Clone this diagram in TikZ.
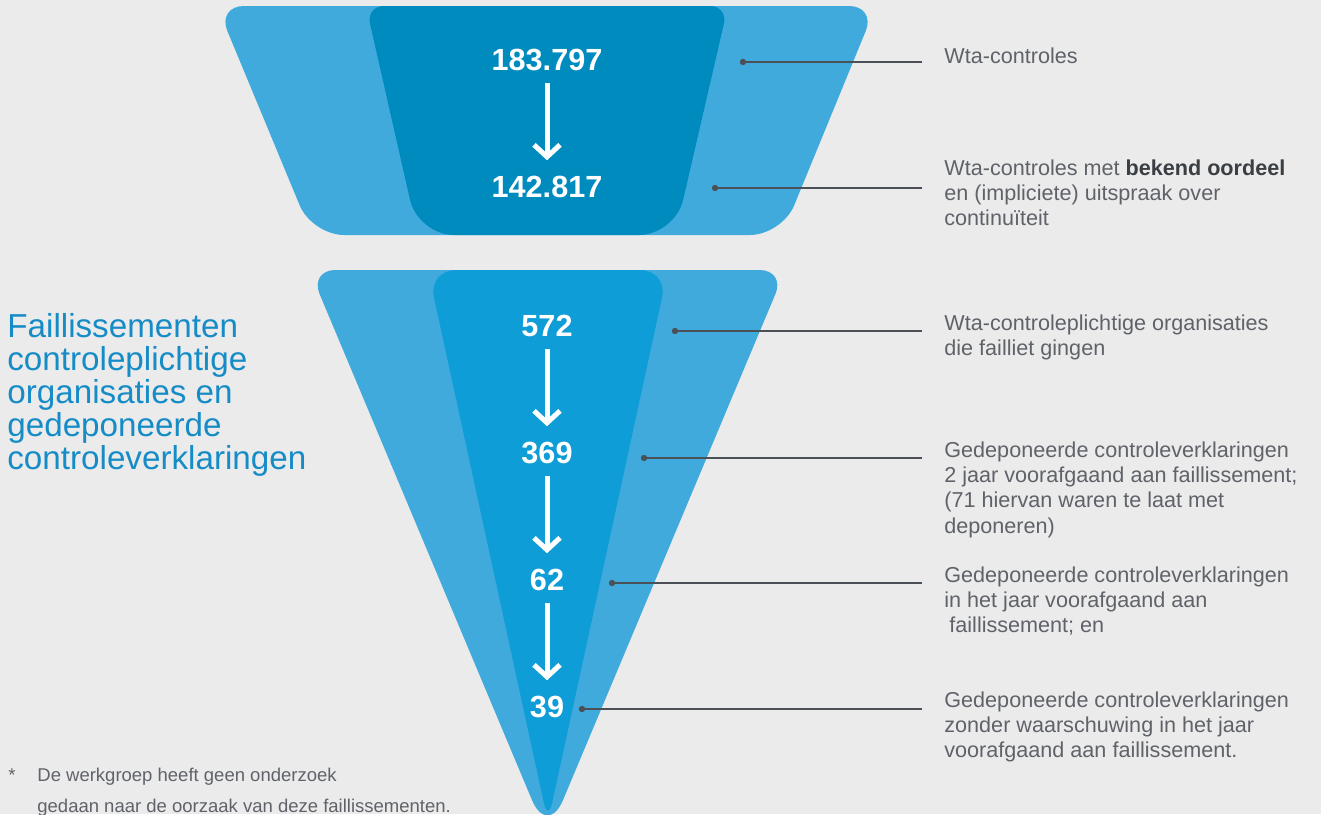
\documentclass[tikz,border=0pt]{standalone}
\usepackage{fontspec}
\setmainfont{Liberation Sans}
\usetikzlibrary{arrows.meta}
\definecolor{bg}{RGB}{235,235,235}
\definecolor{outerblue}{RGB}{65,170,220}
\definecolor{topinner}{RGB}{0,139,191}
\definecolor{botinner}{RGB}{14,157,214}
\definecolor{titleblue}{RGB}{22,140,199}
\definecolor{txtgray}{RGB}{95,99,105}
\definecolor{boldgray}{RGB}{58,63,68}
\definecolor{leadergray}{RGB}{75,80,87}
\begin{document}
\begin{tikzpicture}[x=0.5pt,y=-0.5pt,
  num/.style={font=\fontsize{15.3}{16}\selectfont\bfseries, text=white, inner sep=0pt, anchor=base},
  numarrow/.style={draw=white, line width=2.5pt, shorten <=6pt, shorten >=7.5pt,
    -{Straight Barb[length=6pt,width=13pt,line cap=butt,line join=miter]}},
  desc/.style={anchor=base west, inner sep=0pt, text=txtgray, font=\fontsize{10.8}{12.7}\selectfont},
  leaderline/.style={draw=leadergray, line width=0.65pt},
  leaderdot/.style={fill=leadergray},
  titletext/.style={anchor=base west, inner sep=0pt, text=titleblue, font=\fontsize{16.6}{16.6}\selectfont},
  foot/.style={anchor=base west, inner sep=0pt, text=txtgray, font=\fontsize{9.25}{15.5}\selectfont}
]
\useasboundingbox (0,0) rectangle (1321,814);
\fill[bg] (0,0) rectangle (1321,814);

% ---------- top funnel ----------
\fill[outerblue] (546.5,6) [rounded corners=13.5pt] -- (876,6) -- (829,120.5)
  [rounded corners=16pt] -- (782,235) -- (312,235) -- (264.5,120.5)
  [rounded corners=13.5pt] -- (217,6) -- cycle;
\fill[topinner] (547,6) [rounded corners=9pt] -- (728,6) -- (701.5,120.5)
  [rounded corners=18pt] -- (675,235) -- (418,235) -- (392,120.5)
  [rounded corners=9pt] -- (366,6) -- cycle;

% ---------- bottom funnel ----------
\fill[outerblue] (547.5,270) [rounded corners=13pt] -- (785.5,270) -- (666.5,553.5)
  [rounded corners=20pt] -- (547.5,837) -- (428.5,553.5)
  [rounded corners=13pt] -- (309.5,270) -- cycle;
\fill[botinner] (548,270) [rounded corners=14pt] -- (668,270) -- (608,546)
  [rounded corners=10pt] -- (548,822) -- (488,546)
  [rounded corners=14pt] -- (428,270) -- cycle;

% ---------- numbers ----------
\node[num] (n1) at (547,70) {183.797};
\node[num] (n2) at (547,197) {142.817};
\node[num] (n3) at (547,336) {572};
\node[num] (n4) at (547,463) {369};
\node[num] (n5) at (547,590) {62};
\node[num] (n6) at (547,717) {39};
\draw[numarrow] (n1.south) -- (n2.north);
\draw[numarrow] (n3.south) -- (n4.north);
\draw[numarrow] (n4.south) -- (n5.north);
\draw[numarrow] (n5.south) -- (n6.north);

% ---------- leader lines ----------
\coordinate (d1) at (743,62);  \coordinate (e1) at (922,62);
\coordinate (d2) at (715,188); \coordinate (e2) at (922,188);
\coordinate (d3) at (675,331); \coordinate (e3) at (922,331);
\coordinate (d4) at (644,458); \coordinate (e4) at (922,458);
\coordinate (d5) at (612,583); \coordinate (e5) at (922,583);
\coordinate (d6) at (582,709); \coordinate (e6) at (922,709);
\foreach \i in {1,...,6}{
  \draw[leaderline] (d\i) -- (e\i);
  \fill[leaderdot] (d\i) circle (1.6pt);
}

% ---------- descriptions ----------
\node[desc] (t1) at (944,63) {\parbox[t]{9cm}{\raggedright Wta-controles}};
\node[desc] (t2) at (944,175) {\parbox[t]{9cm}{\raggedright Wta-controles met {\bfseries\color{boldgray}bekend oordeel}\\en (impliciete) uitspraak over\\continuïteit}};
\node[desc] (t3) at (944,330) {\parbox[t]{9cm}{\raggedright Wta-controleplichtige organisaties\\die failliet gingen}};
\node[desc] (t4) at (944,457) {\parbox[t]{9cm}{\raggedright Gedeponeerde controleverklaringen\\2 jaar voorafgaand aan faillissement;\\(71 hiervan waren te laat met\\deponeren)}};
\node[desc] (t5) at (944,582) {\parbox[t]{9cm}{\raggedright Gedeponeerde controleverklaringen\\in het jaar voorafgaand aan\\\hspace*{2.5pt}faillissement; en}};
\node[desc] (t6) at (944,707) {\parbox[t]{9cm}{\raggedright Gedeponeerde controleverklaringen\\zonder waarschuwing in het jaar\\voorafgaand aan faillissement.}};

% ---------- title ----------
\node[titletext] (title) at (7,337) {\parbox[t]{10cm}{\raggedright Faillissementen\\controleplichtige\\organisaties en\\gedeponeerde\\controleverklaringen}};

% ---------- footnote ----------
\node[foot] (star) at (8,781) {*};
\node[foot] (fn) at (37,781) {\parbox[t]{10cm}{\raggedright De werkgroep heeft geen onderzoek\\gedaan naar de oorzaak van deze faillissementen.}};
\end{tikzpicture}
\end{document}
